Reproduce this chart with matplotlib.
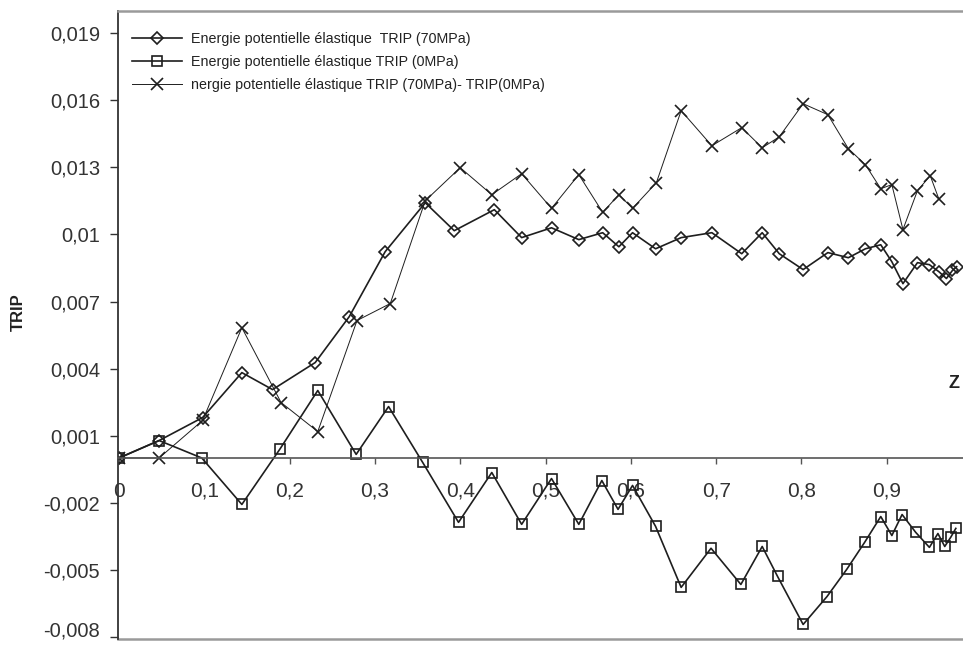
import matplotlib
matplotlib.use("Agg")
import matplotlib.pyplot as plt

plt.rcParams['font.family'] = ['Liberation Sans', 'DejaVu Sans']

# --- data ---
x_70 = [0, 0.047, 0.098, 0.144, 0.180, 0.230, 0.270, 0.312, 0.359, 0.393,
        0.440, 0.472, 0.507, 0.539, 0.567, 0.586, 0.602, 0.629, 0.659, 0.695,
        0.730, 0.754, 0.774, 0.802, 0.831, 0.855, 0.875, 0.893, 0.906, 0.919,
        0.936, 0.950, 0.961, 0.970, 0.977, 0.982]
e_70 = [0, 0.00078, 0.00181, 0.00382, 0.00306, 0.00427, 0.00633, 0.00923, 0.01142, 0.01017,
        0.01111, 0.00986, 0.01030, 0.00977, 0.01008, 0.00945, 0.01008, 0.00936, 0.00986, 0.01008,
        0.00914, 0.01008, 0.00914, 0.00843, 0.00919, 0.00896, 0.00936, 0.00954, 0.00878, 0.00780,
        0.00874, 0.00865, 0.00834, 0.00803, 0.00839, 0.00856]

x_0 = [0, 0.047, 0.097, 0.144, 0.189, 0.233, 0.278, 0.316, 0.356, 0.398,
       0.437, 0.472, 0.507, 0.539, 0.566, 0.585, 0.602, 0.629, 0.659, 0.694,
       0.729, 0.754, 0.772, 0.802, 0.830, 0.853, 0.874, 0.893, 0.906, 0.918,
       0.934, 0.950, 0.960, 0.968, 0.975, 0.981]
e_0 = [0, 0.00078, 0.0, -0.00208, 0.00042, 0.00302, 0.00016, 0.00230, -0.00020, -0.00288,
       -0.00065, -0.00297, -0.00092, -0.00297, -0.00101, -0.00230, -0.00123, -0.00306, -0.00579, -0.00404,
       -0.00566, -0.00396, -0.00530, -0.00745, -0.00620, -0.00499, -0.00378, -0.00262, -0.00347, -0.00253,
       -0.00333, -0.00400, -0.00338, -0.00396, -0.00355, -0.00315]

x_diff = [0, 0.047, 0.098, 0.144, 0.190, 0.233, 0.279, 0.318, 0.359, 0.400,
          0.437, 0.472, 0.507, 0.539, 0.567, 0.586, 0.602, 0.630, 0.659, 0.695,
          0.730, 0.754, 0.774, 0.802, 0.831, 0.855, 0.875, 0.893, 0.906, 0.919,
          0.936, 0.951, 0.961]
e_diff = [0, 0.0, 0.00168, 0.00583, 0.00248, 0.00118, 0.00615, 0.00691, 0.01151, 0.01299,
          0.01178, 0.01272, 0.01117, 0.01268, 0.01099, 0.01178, 0.01117, 0.01232, 0.01554, 0.01397,
          0.01478, 0.01388, 0.01437, 0.01585, 0.01536, 0.01384, 0.01312, 0.01205, 0.01223, 0.01022,
          0.01196, 0.01263, 0.01160]

labels = ["Energie potentielle élastique  TRIP (70MPa)",
          "Energie potentielle élastique TRIP (0MPa)",
          "nergie potentielle élastique TRIP (70MPa)- TRIP(0MPa)"]

yticks = [0.019, 0.016, 0.013, 0.01, 0.007, 0.004, 0.001, -0.002, -0.005, -0.008]
ytick_labels = ["0,019", "0,016", "0,013", "0,01", "0,007", "0,004", "0,001",
                "-0,002", "-0,005", "-0,008"]
xticks = [0, 0.1, 0.2, 0.3, 0.4, 0.5, 0.6, 0.7, 0.8, 0.9]
xtick_labels = ["0", "0,1", "0,2", "0,3", "0,4", "0,5", "0,6", "0,7", "0,8", "0,9"]

W, H = 963, 646
fig = plt.figure(figsize=(W / 100, H / 100), dpi=100)
# axes runs off the right edge like in the original screenshot
ax = fig.add_axes([118 / W, 7 / H, (985 - 118) / W, (639 - 11) / H])

col = '#1e1e1e'
ax.plot(x_70, e_70, color=col, lw=1.2, marker='D', ms=5.8, mfc='none', mec=col, mew=1.2,
        label=labels[0])
ax.plot(x_0, e_0, color=col, lw=1.2, marker='s', ms=6.8, mfc='none', mec=col, mew=1.2,
        label=labels[1])
ax.plot(x_diff, e_diff, color=col, lw=0.7, marker='x', ms=9, mec=col, mew=1.2,
        label=labels[2])

ax.set_xlim(-0.0012, 1.0152)
ax.set_ylim(-0.0081, 0.0200)

# x axis drawn through zero, frame lines kept at top and bottom
ax.spines['bottom'].set_position(('data', 0))
ax.spines['bottom'].set_color('#555555')
ax.spines['bottom'].set_linewidth(1.2)
ax.spines['right'].set_visible(False)
ax.spines['top'].set_color('#9a9a9a')
ax.spines['top'].set_linewidth(1.8)
ax.spines['left'].set_color('#333333')
ax.spines['left'].set_linewidth(1.3)
ax.axhline(-0.0081, color='#9a9a9a', lw=1.8, clip_on=False)

ax.set_xticks(xticks)
ax.set_xticklabels(xtick_labels)
ax.set_yticks(yticks)
ax.set_yticklabels(ytick_labels)
ax.tick_params(axis='x', direction='out', length=4, width=1, color='#555555',
               pad=13, labelsize=15, labelcolor='#333333')
ax.tick_params(axis='y', direction='out', length=6, width=1, color='#333333',
               pad=7, labelsize=14.5, labelcolor='#333333')
# lowest label sits on the image edge, lift it a touch so it stays whole
ax.get_yticklabels()[-1].set_verticalalignment('baseline')

fig.text(18 / W, 1 - 312 / H, "TRIP", rotation=90, fontsize=12, fontweight='bold',
         color='#222222', ha='center', va='center')
fig.text(948 / W, 1 - 384 / H, "Z", fontsize=13, fontweight='bold',
         color='#222222', ha='left', va='center')

ax.legend(loc='upper left', bbox_to_anchor=(132 / W, 1 - 32 / H),
          bbox_transform=fig.transFigure, frameon=False, fontsize=10.3,
          handlelength=3.5, handletextpad=0.6, labelspacing=0.62,
          borderpad=0, borderaxespad=0, numpoints=1, labelcolor='#222222')

fig.savefig("out.png", dpi=100)
